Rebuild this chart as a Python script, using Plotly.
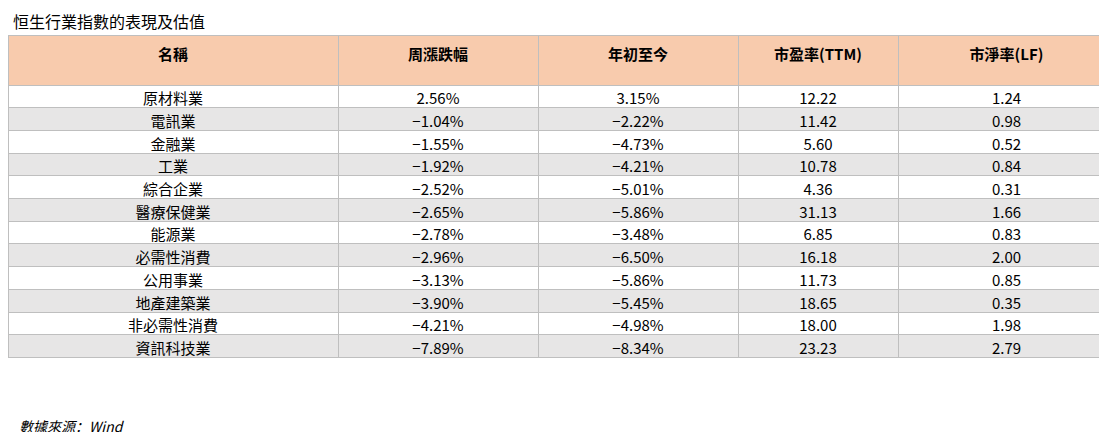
import plotly.graph_objects as go

names = ["原材料業","電訊業","金融業","工業","綜合企業","醫療保健業","能源業","必需性消費","公用事業","地產建築業","非必需性消費","資訊科技業"]
weekly = ["2.56%","−1.04%","−1.55%","−1.92%","−2.52%","−2.65%","−2.78%","−2.96%","−3.13%","−3.90%","−4.21%","−7.89%"]
ytd = ["3.15%","−2.22%","−4.73%","−4.21%","−5.01%","−5.86%","−3.48%","−6.50%","−5.86%","−5.45%","−4.98%","−8.34%"]
pe = ["12.22","11.42","5.60","10.78","4.36","31.13","6.85","16.18","11.73","18.65","18.00","23.23"]
pb = ["1.24","0.98","0.52","0.84","0.31","1.66","0.83","2.00","0.85","0.35","1.98","2.79"]
headers = ["<b>名稱</b>","<b>周漲跌幅</b>","<b>年初至今</b>","<b>市盈率(TTM)</b>","<b>市淨率(LF)</b>"]

fills = ["#FFFFFF" if i % 2 == 0 else "#E7E6E6" for i in range(len(names))]
font = "Noto Sans CJK SC"

fig = go.Figure(go.Table(
    domain=dict(x=[0, 1], y=[0, 1 - 27/432]),
    columnwidth=[330, 200, 200, 160, 217],
    header=dict(values=headers, fill_color="#F8CBAD", height=50,
                line=dict(color="#BFBFBF", width=1),
                font=dict(family=font, size=15, color="#000000"), align="center"),
    cells=dict(values=[names, weekly, ytd, pe, pb], fill_color=[fills]*5, height=22.7,
               line=dict(color="#BFBFBF", width=1),
               font=dict(family=font, size=15, color="#000000"), align="center"),
))
fig.update_layout(
    width=1107, height=432, margin=dict(l=0, r=0, t=0, b=0),
    paper_bgcolor="white",
    annotations=[
        dict(text="恒生行業指數的表現及估值", x=0.003, y=1-13/432, xref="paper", yref="paper",
             xanchor="left", yanchor="middle", showarrow=False,
             font=dict(family=font, size=16, color="#000000")),
        dict(text="<i>數據來源：Wind</i>", x=0.008, y=1-418/432, xref="paper", yref="paper",
             xanchor="left", yanchor="middle", showarrow=False,
             font=dict(family=font, size=14, color="#000000")),
    ],
)
fig.write_html("out.html")
